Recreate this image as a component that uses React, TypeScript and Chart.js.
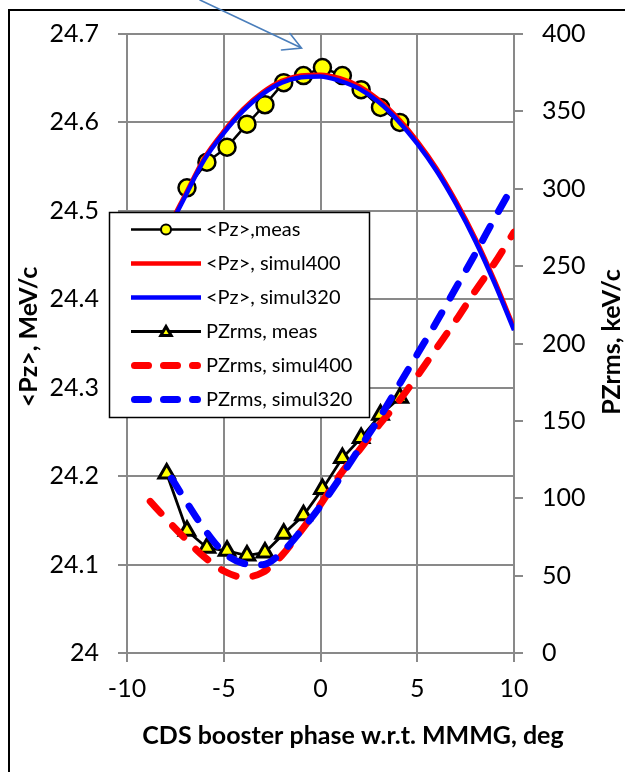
import React, { useEffect, useRef } from "react";
import { Chart, registerables } from "chart.js";

Chart.register(...registerables);

// ---- measured data ----
const phaseMeasPz = [-6.9, -5.87, -4.83, -3.8, -2.87, -1.9, -0.88, 0.1, 1.13, 2.1, 3.1, 4.1];
const pzMeas = [24.526, 24.555, 24.572, 24.598, 24.62, 24.645, 24.653, 24.662, 24.653, 24.637, 24.617, 24.6];

const phaseMeasRms = [-7.95, -6.9, -5.87, -4.83, -3.8, -2.87, -1.9, -0.88, 0.1, 1.13, 2.1, 3.1, 4.1];
const rmsMeas = [116, 79, 68, 66, 63, 65, 77, 89, 106, 126, 139, 154, 165];

// ---- simulations ----
const phaseSimPz = [-10, -9, -8, -7, -6, -5, -4, -3, -2, -1, 0, 1, 2, 3, 4, 5, 6, 7, 8, 9, 10];
const pzSim400 = [
  24.362, 24.419, 24.474, 24.518, 24.56, 24.59, 24.615, 24.634, 24.647, 24.653, 24.654,
  24.65, 24.641, 24.626, 24.605, 24.579, 24.548, 24.511, 24.469, 24.421, 24.368,
];
const pzSim320 = [
  24.36, 24.417, 24.472, 24.516, 24.558, 24.588, 24.613, 24.632, 24.645, 24.651, 24.652,
  24.647, 24.638, 24.623, 24.602, 24.576, 24.545, 24.508, 24.466, 24.418, 24.365,
];

const phaseSimRms400 = [-8.8, -8, -7, -6, -5, -4, -3, -2, -1, 0, 1, 2, 3, 4, 5, 6, 7, 8, 9, 10];
const rmsSim400 = [98, 87, 74, 62, 53, 49, 52, 63, 79, 96, 115, 131, 147, 162, 179, 197, 215, 234, 252, 272];

const phaseSimRms320 = [-7.7, -7, -6, -5, -4, -3, -2, -1, 0, 1, 2, 3, 4, 5, 6, 7, 8, 9, 10];
const rmsSim320 = [113, 99, 80, 65, 58, 57, 65, 79, 95, 113, 132, 151, 172, 193, 214, 236, 258, 281, 303];

// ---- axes ----
const phaseRange = [-10, 10];
const phaseStep = 5;
const pzRange = [24, 24.7];
const pzStep = 0.1;
const rmsRange = [0, 400];
const rmsStep = 50;

const xTitle = "CDS booster phase w.r.t. MMMG, deg";
const yTitle = "<Pz>, MeV/c";
const y2Title = "PZrms, keV/c";

const labels = [
  "<Pz>,meas",
  "<Pz>, simul400",
  "<Pz>, simul320",
  "PZrms, meas",
  "PZrms, simul400",
  "PZrms, simul320",
];

const FONT = "Lato, 'Open Sans', sans-serif";
const GRID = "#898989";
const YELLOW = "#ffff00";
const RED = "#ff0000";
const BLUE = "#0000ff";
const DASH = [16, 17];

const pts = (xs: number[], ys: number[]) => xs.map((x, i) => ({ x, y: ys[i] }));

function drawMarker(ctx: CanvasRenderingContext2D, style: string, x: number, y: number, r: number, bw: number) {
  ctx.beginPath();
  if (style === "triangle") {
    for (let k = 0; k < 3; k++) {
      const a = (k * 2 * Math.PI) / 3;
      const px = x + Math.sin(a) * r;
      const py = y - Math.cos(a) * r;
      if (k === 0) ctx.moveTo(px, py);
      else ctx.lineTo(px, py);
    }
    ctx.closePath();
  } else {
    ctx.arc(x, y, r, 0, Math.PI * 2);
  }
  ctx.fillStyle = YELLOW;
  ctx.fill();
  ctx.lineWidth = bw;
  ctx.strokeStyle = "#000";
  ctx.lineJoin = "miter";
  ctx.stroke();
}

const decorPlugin = {
  id: "decor",
  afterDraw(chart: any) {
    const ctx: CanvasRenderingContext2D = chart.ctx;
    const area = chart.chartArea;
    ctx.save();

    // frame (left and top edges)
    ctx.strokeStyle = "#000";
    ctx.lineWidth = 2;
    ctx.beginPath();
    ctx.moveTo(9, chart.height);
    ctx.lineTo(9, 10);
    ctx.lineTo(chart.width, 10);
    ctx.stroke();

    // pointer arrow towards the peak
    ctx.strokeStyle = "#4a7ebb";
    ctx.lineWidth = 1.6;
    ctx.lineCap = "round";
    ctx.beginPath();
    ctx.moveTo(200, 0);
    ctx.lineTo(301.5, 48);
    ctx.moveTo(290, 33.5);
    ctx.lineTo(301.5, 48);
    ctx.lineTo(281.5, 50);
    ctx.stroke();

    // axis titles
    ctx.fillStyle = "#000";
    ctx.font = `bold 25px ${FONT}`;
    ctx.textAlign = "center";
    ctx.textBaseline = "alphabetic";
    ctx.fillText(xTitle, 353, 744);

    ctx.save();
    ctx.translate(37, 337);
    ctx.rotate(-Math.PI / 2);
    ctx.fillText(yTitle, 0, 0);
    ctx.restore();

    ctx.save();
    ctx.translate(620, 342);
    ctx.rotate(-Math.PI / 2);
    ctx.fillText(y2Title, 0, 0);
    ctx.restore();

    // legend box inside the plot
    const bx = area.left - 18;
    const by = 212;
    const bw = 260;
    const bh = 205;
    ctx.fillStyle = "#fff";
    ctx.fillRect(bx, by, bw, bh);
    ctx.strokeStyle = "#000";
    ctx.lineWidth = 1.5;
    ctx.strokeRect(bx + 0.5, by + 0.5, bw, bh);

    const rowH = 34;
    const x0 = bx + 22;
    const x1 = bx + 92;
    chart.data.datasets.forEach((ds: any, i: number) => {
      const y = by + 17.5 + i * rowH;
      ctx.save();
      ctx.strokeStyle = ds.borderColor;
      ctx.lineWidth = ds.borderWidth;
      ctx.lineCap = ds.borderCapStyle || "butt";
      if (ds.borderDash && ds.borderDash.length) {
        ctx.setLineDash([14, 15]);
        ctx.beginPath();
        ctx.moveTo(x0 + 3.5, y);
        ctx.lineTo(x1 - 3.5, y);
        ctx.stroke();
      } else {
        ctx.beginPath();
        ctx.moveTo(x0, y);
        ctx.lineTo(x1, y);
        ctx.stroke();
      }
      ctx.setLineDash([]);
      if (ds.pointRadius > 0) {
        const mid = (x0 + x1) / 2;
        if (ds.pointStyle === "triangle") drawMarker(ctx, "triangle", mid, y + 1, 6, 3);
        else drawMarker(ctx, "circle", mid, y, 5, 2);
      }
      ctx.restore();
      ctx.fillStyle = "#000";
      ctx.font = `20px ${FONT}`;
      ctx.textAlign = "left";
      ctx.textBaseline = "middle";
      ctx.fillText(ds.label, x1 + 5, y);
    });

    ctx.restore();
  },
};

export default function App() {
  const canvasRef = useRef<HTMLCanvasElement | null>(null);

  useEffect(() => {
    const canvas = canvasRef.current;
    if (!canvas) return;

    const tickFont = { family: FONT, size: 25 };

    const chart = new Chart(canvas, {
      type: "line",
      data: {
        datasets: [
          {
            label: labels[0],
            data: pts(phaseMeasPz, pzMeas),
            yAxisID: "y",
            borderColor: "#000",
            borderWidth: 2.5,
            pointStyle: "circle",
            pointRadius: 8.5,
            pointBackgroundColor: YELLOW,
            pointBorderColor: "#000",
            pointBorderWidth: 2.5,
            tension: 0,
            order: 6,
          },
          {
            label: labels[1],
            data: pts(phaseSimPz, pzSim400),
            yAxisID: "y",
            borderColor: RED,
            borderWidth: 4.5,
            pointRadius: 0,
            cubicInterpolationMode: "monotone",
            order: 5,
          },
          {
            label: labels[2],
            data: pts(phaseSimPz, pzSim320),
            yAxisID: "y",
            borderColor: BLUE,
            borderWidth: 4.5,
            pointRadius: 0,
            cubicInterpolationMode: "monotone",
            order: 4,
          },
          {
            label: labels[3],
            data: pts(phaseMeasRms, rmsMeas),
            yAxisID: "y2",
            borderColor: "#000",
            borderWidth: 2.8,
            pointStyle: "triangle",
            pointRadius: 9,
            pointBackgroundColor: YELLOW,
            pointBorderColor: "#000",
            pointBorderWidth: 3,
            tension: 0,
            order: 3,
          },
          {
            label: labels[4],
            data: pts(phaseSimRms400, rmsSim400),
            yAxisID: "y2",
            borderColor: RED,
            borderWidth: 7,
            borderDash: DASH,
            borderCapStyle: "round",
            pointRadius: 0,
            cubicInterpolationMode: "monotone",
            order: 2,
          },
          {
            label: labels[5],
            data: pts(phaseSimRms320, rmsSim320),
            yAxisID: "y2",
            borderColor: BLUE,
            borderWidth: 7,
            borderDash: DASH,
            borderCapStyle: "round",
            pointRadius: 0,
            cubicInterpolationMode: "monotone",
            order: 1,
          },
        ],
      },
      options: {
        animation: false,
        responsive: false,
        devicePixelRatio: 1,
        layout: { padding: { top: 31, left: 0, right: 0, bottom: 0 } },
        plugins: { legend: { display: false }, tooltip: { enabled: false } },
        events: [],
        scales: {
          x: {
            type: "linear",
            min: phaseRange[0],
            max: phaseRange[1],
            ticks: { stepSize: phaseStep, font: tickFont, color: "#000", padding: 12, maxRotation: 0 },
            grid: { color: GRID, lineWidth: 2, tickLength: 9, tickColor: GRID },
            border: { color: GRID, width: 2 },
            afterFit: (s: any) => {
              s.height = 119;
            },
          },
          y: {
            type: "linear",
            position: "left",
            min: pzRange[0],
            max: pzRange[1],
            ticks: {
              stepSize: pzStep,
              font: tickFont,
              color: "#000",
              padding: 19,
              callback: (v: any) => Number(v).toFixed(1).replace(/\.0$/, ""),
            },
            grid: { color: GRID, lineWidth: 2, tickLength: 9, tickColor: GRID },
            border: { color: GRID, width: 2 },
            afterFit: (s: any) => {
              s.width = 127;
            },
          },
          y2: {
            type: "linear",
            position: "right",
            min: rmsRange[0],
            max: rmsRange[1],
            ticks: { stepSize: rmsStep, font: tickFont, color: "#000", padding: 19 },
            grid: { drawOnChartArea: false, color: GRID, lineWidth: 2, tickLength: 9, tickColor: GRID },
            border: { color: GRID, width: 2 },
            afterFit: (s: any) => {
              s.width = 111;
            },
          },
        },
      },
      plugins: [decorPlugin],
    } as any);

    return () => chart.destroy();
  }, []);

  return (
    <div style={{ position: "absolute", left: 0, top: 0, width: 625, height: 772, background: "#fff" }}>
      <canvas ref={canvasRef} width={625} height={772} style={{ display: "block" }} />
    </div>
  );
}
